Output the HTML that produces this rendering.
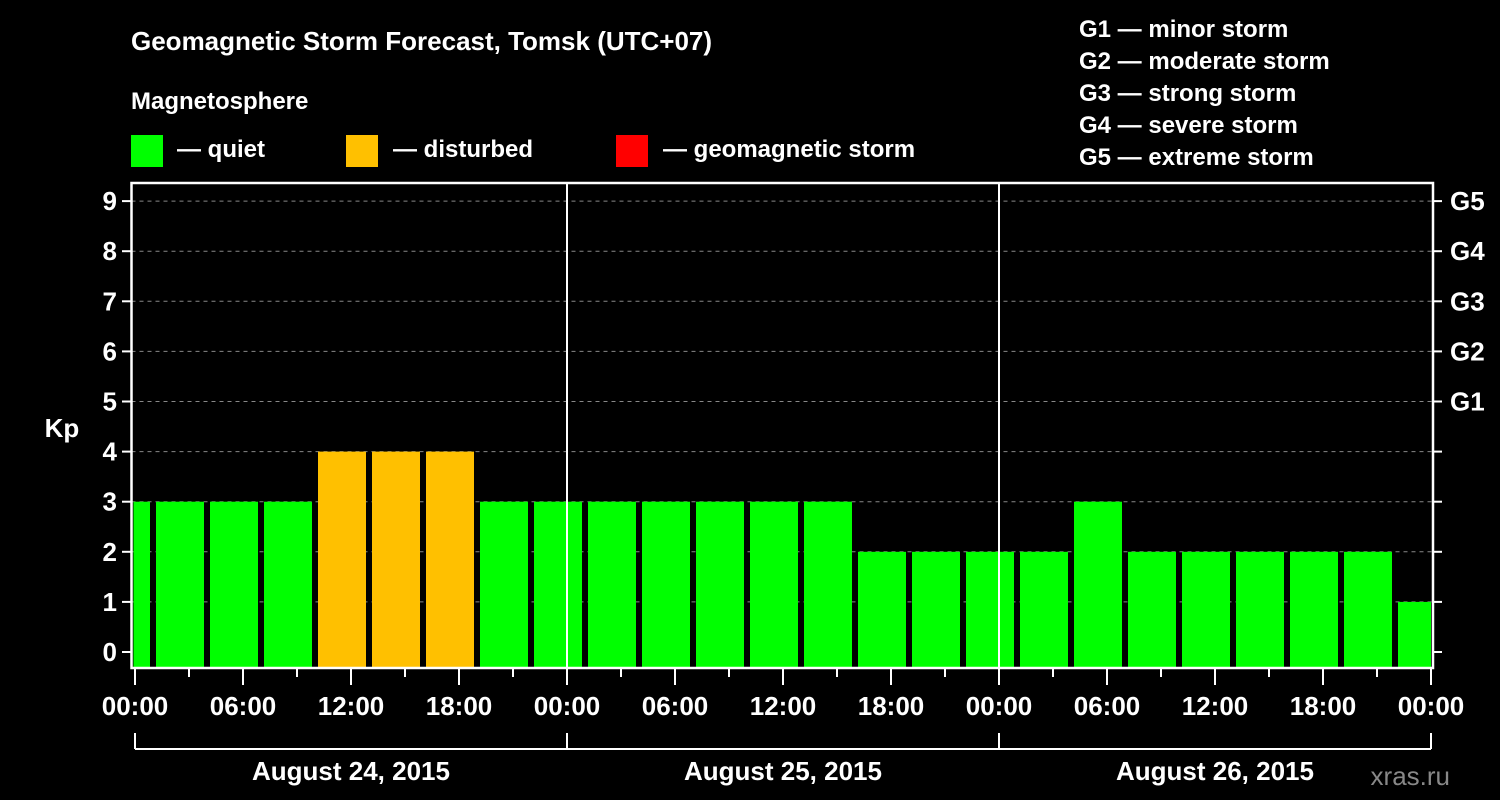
<!DOCTYPE html>
<html><head><meta charset="utf-8"><style>
body{margin:0;background:#000;}
svg{display:block;font-family:"Liberation Sans",Arial,sans-serif;font-weight:bold;}
</style></head><body>
<svg id="c" width="1500" height="800" xmlns="http://www.w3.org/2000/svg">
<rect width="1500" height="800" fill="#000"/>
<text x="131" y="50" fill="#fff" font-size="26">Geomagnetic Storm Forecast, Tomsk (UTC+07)</text>
<text x="131" y="109" fill="#fff" font-size="24">Magnetosphere</text>
<g><rect x="131" y="135" width="32" height="32" fill="#00ff00"/><text x="177" y="157" fill="#fff" font-size="24">— quiet</text></g>
<g><rect x="346" y="135" width="32" height="32" fill="#ffc000"/><text x="393" y="157" fill="#fff" font-size="24">— disturbed</text></g>
<g><rect x="616" y="135" width="32" height="32" fill="#ff0000"/><text x="663" y="157" fill="#fff" font-size="24">— geomagnetic storm</text></g>
<g fill="#fff" font-size="24">
<text x="1079" y="37">G1 — minor storm</text>
<text x="1079" y="69">G2 — moderate storm</text>
<text x="1079" y="101">G3 — strong storm</text>
<text x="1079" y="133">G4 — severe storm</text>
<text x="1079" y="165">G5 — extreme storm</text>
</g>
<text x="62" y="437" fill="#fff" font-size="26" text-anchor="middle">Kp</text>
<text x="1450" y="785" fill="#888" font-size="26" text-anchor="end" font-weight="normal">xras.ru</text>
<g id="plot"></g>
</svg>
<script>
const kpValues=[3,3,3,3,4,4,4,3,3,3,3,3,3,3,2,2,2,2,3,2,2,2,2,2,1];
const slotStartHours=[-2,1,4,7,10,13,16,19,22,25,28,31,34,37,40,43,46,49,52,55,58,61,64,67,70];
const xTickLabels=["00:00","06:00","12:00","18:00","00:00","06:00","12:00","18:00","00:00","06:00","12:00","18:00","00:00"];
const dayLabels=["August 24, 2015","August 25, 2015","August 26, 2015"];
const yTicks=[0,1,2,3,4,5,6,7,8,9];
const gLabels=["G1","G2","G3","G4","G5"];
const NS="http://www.w3.org/2000/svg";
const g=document.getElementById('plot');
const L=131.5,R=1433,T=183,B=668;
const X=h=>135+h*18;
const Y=v=>652-v*50.1;
function mk(tag,a,parent){const e=document.createElementNS(NS,tag);for(const k in a)e.setAttribute(k,a[k]);(parent||g).appendChild(e);return e;}
// grid
yTicks.forEach(v=>{if(v>0){const l=mk('line',{x1:L,x2:R,y1:Y(v),y2:Y(v),stroke:'#888','stroke-dasharray':'4,4','stroke-width':1});

}});
// bars
kpValues.forEach((v,i)=>{const s=slotStartHours[i];let x1=Math.max(X(s)+3,L+2),x2=Math.min(X(s)+51,R-2);
const col=v>=5?'#ff0000':(v>=4?'#ffc000':'#00ff00');
const r=mk('rect',{x:x1,y:Y(v),width:x2-x1,height:B-Y(v),fill:col});

});
// day separators
[1,2].forEach(d=>{const l=mk('line',{x1:X(d*24),x2:X(d*24),y1:T,y2:B,stroke:'#fff','stroke-width':2});

});
// frame
const fr=mk('rect',{x:L,y:T,width:R-L,height:B-T,fill:'none',stroke:'#fff','stroke-width':2.5});


// y ticks
yTicks.forEach(v=>{mk('line',{x1:122,x2:L,y1:Y(v),y2:Y(v),stroke:'#fff','stroke-width':2});
mk('line',{x1:R,x2:1442,y1:Y(v),y2:Y(v),stroke:'#fff','stroke-width':2});
const t=mk('text',{x:117,y:Y(v)+9,fill:'#fff','font-size':26,'text-anchor':'end'});t.textContent=v;

});
gLabels.forEach((s,i)=>{const t=mk('text',{x:1450,y:Y(5+i)+9,fill:'#fff','font-size':26});t.textContent=s;

});
// x ticks
for(let h=0;h<=72;h+=3){const major=h%6===0;mk('line',{x1:X(h),x2:X(h),y1:B,y2:major?685:677,stroke:'#fff','stroke-width':2});}
xTickLabels.forEach((s,i)=>{const t=mk('text',{x:X(i*6),y:715,fill:'#fff','font-size':26,'text-anchor':'middle'});t.textContent=s;

});
// date bracket
mk('line',{x1:X(0),x2:X(72),y1:749,y2:749,stroke:'#fff','stroke-width':2});
for(let d=0;d<=3;d++)mk('line',{x1:X(d*24),x2:X(d*24),y1:733,y2:749,stroke:'#fff','stroke-width':2});
dayLabels.forEach((s,i)=>{const t=mk('text',{x:X(i*24+12),y:780,fill:'#fff','font-size':26,'text-anchor':'middle'});t.textContent=s;

});
</script>
</body></html>
